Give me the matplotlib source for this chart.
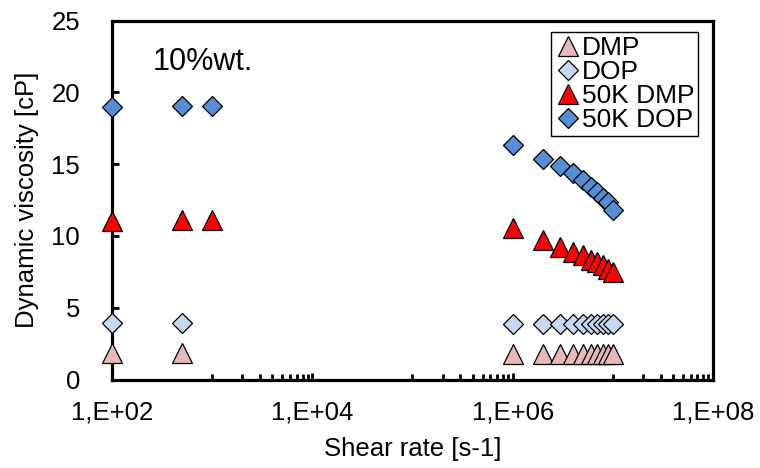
import numpy as np
import matplotlib
matplotlib.use('Agg')
import matplotlib.pyplot as plt
from matplotlib.ticker import FixedLocator, FuncFormatter, NullFormatter

plt.rcParams['font.family'] = ['Liberation Sans', 'DejaVu Sans']

# shear rates [s-1]
shear_plain = [1e2, 5e2, 1e6, 2e6, 3e6, 4e6, 5e6, 6e6, 7e6, 8e6, 9e6, 1e7]
shear_50k = [1e2, 5e2, 1e3, 1e6, 2e6, 3e6, 4e6, 5e6, 6e6, 7e6, 8e6, 9e6, 1e7]

# dynamic viscosity [cP]
dmp = [1.85, 1.85, 1.8, 1.8, 1.8, 1.8, 1.8, 1.8, 1.8, 1.8, 1.8, 1.8]
dop = [3.9, 3.9, 3.85, 3.85, 3.85, 3.85, 3.85, 3.85, 3.85, 3.85, 3.85, 3.85]
dmp_50k = [11.05, 11.1, 11.1, 10.54, 9.74, 9.22, 8.87, 8.64, 8.34, 8.17, 7.94, 7.71, 7.48]
dop_50k = [19.0, 19.05, 19.05, 16.3, 15.37, 14.9, 14.37, 13.9, 13.44, 13.05, 12.67, 12.33, 11.82]

fs = 18.5
fig = plt.figure(figsize=(7.6, 4.68), dpi=100)
ax = fig.add_axes([112 / 760, 1 - 379.5 / 468, 601 / 760, 359 / 468])

tri = dict(marker='^', markersize=14, markeredgecolor='black', markeredgewidth=0.9,
           linestyle='none', clip_on=False, zorder=5)
dia = dict(marker='D', markersize=9.8, markeredgecolor='black', markeredgewidth=0.9,
           linestyle='none', clip_on=False, zorder=5)

ax.plot(shear_plain, dmp, markerfacecolor='#E6B9B8', label='DMP', **tri)
ax.plot(shear_plain, dop, markerfacecolor='#C6D9F1', label='DOP', **dia)
ax.plot(shear_50k, dmp_50k, markerfacecolor='#FF0000', label='50K DMP', **tri)
ax.plot(shear_50k, dop_50k, markerfacecolor='#558ED5', label='50K DOP', **dia)

ax.set_xscale('log')
ax.set_xlim(1e2, 1e8)
ax.set_ylim(0, 25)

ax.xaxis.set_major_locator(FixedLocator([1e2, 1e4, 1e6, 1e8]))
ax.xaxis.set_major_formatter(FuncFormatter(lambda v, p: '1,E+%02d' % int(round(np.log10(v)))))
minor = [k * 10.0 ** e for e in (3, 5, 7) for k in range(1, 10)]
ax.xaxis.set_minor_locator(FixedLocator(minor))
ax.xaxis.set_minor_formatter(NullFormatter())
ax.set_yticks([0, 5, 10, 15, 20, 25])

ax.tick_params(axis='x', which='major', direction='in', length=5, width=2, pad=15, labelsize=fs)
ax.tick_params(axis='x', which='minor', direction='in', length=4, width=2)
ax.tick_params(axis='y', which='major', direction='in', length=5, width=2, pad=23, labelsize=fs)

for s in ax.spines.values():
    s.set_linewidth(2.3)

ax.set_xlabel('Shear rate [s-1]', fontsize=fs, labelpad=9)
ax.set_ylabel('Dynamic viscosity [cP]', fontsize=fs, labelpad=9)

ax.text(0.067, 0.884, '10%wt.', transform=ax.transAxes, fontsize=22, va='center', ha='left')

leg = ax.legend(loc='upper right', bbox_to_anchor=(0.975, 0.968), fontsize=19,
                frameon=True, fancybox=False, edgecolor='black', framealpha=1,
                handlelength=1.0, handletextpad=0.0, labelspacing=0.0,
                borderpad=0.15, borderaxespad=0)
leg.get_frame().set_linewidth(1.0)

fig.savefig('out.png', dpi=100)
